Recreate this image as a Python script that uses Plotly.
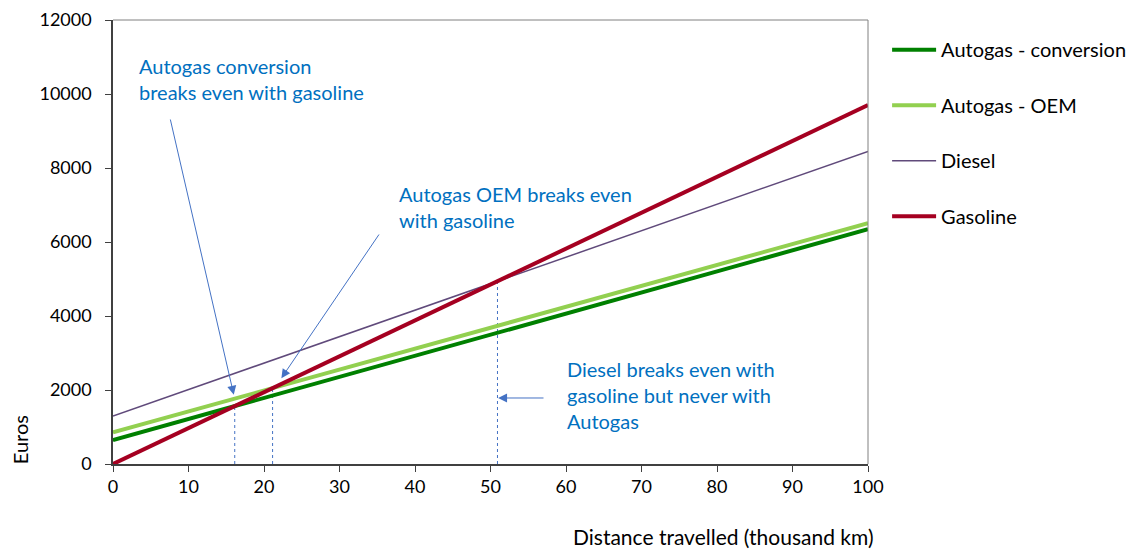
import plotly.graph_objects as go

DIST = [0, 100]  # thousand km
CONVERSION = [645, 6345]
OEM = [855, 6510]
DIESEL = [1297, 8450]
GASOLINE = [0, 9700]

FONT = dict(family="Lato, Carlito, sans-serif", size=18, color="#000000")
NOTE_FONT = dict(family="Lato, Carlito, sans-serif", size=20, color="#0070C0")
ARROW = "#4472C4"


def cross(a, b):
    # x where two straight lines meet, and the value there
    sa = (a[1] - a[0]) / (DIST[1] - DIST[0])
    sb = (b[1] - b[0]) / (DIST[1] - DIST[0])
    x = (b[0] - a[0]) / (sa - sb)
    return x, a[0] + sa * x


fig = go.Figure()
fig.add_trace(go.Scatter(x=DIST, y=CONVERSION, mode="lines", name="Autogas - conversion",
                         line=dict(color="#008000", width=4), legendgroup="a"))
fig.add_trace(go.Scatter(x=DIST, y=OEM, mode="lines", name="Autogas - OEM",
                         line=dict(color="#92D050", width=4), legendgroup="b"))
fig.add_trace(go.Scatter(x=DIST, y=DIESEL, mode="lines", name="Diesel",
                         line=dict(color="#604A7B", width=1.5), legendgroup="c"))
fig.add_trace(go.Scatter(x=DIST, y=GASOLINE, mode="lines", name="Gasoline",
                         line=dict(color="#A50021", width=4), legendgroup="d"))

# dashed drop lines at the break-even points
for other in (CONVERSION, OEM, DIESEL):
    bx, by = cross(other, GASOLINE)
    fig.add_shape(type="line", x0=bx, x1=bx, y0=0, y1=by, xref="x", yref="y",
                  line=dict(color=ARROW, width=1, dash="dot"), layer="below")

# box top/right in grey
fig.add_shape(type="line", xref="paper", yref="paper", x0=0, x1=1, y0=1, y1=1,
              line=dict(color="#808080", width=1))
fig.add_shape(type="line", xref="paper", yref="paper", x0=1, x1=1, y0=0, y1=1,
              line=dict(color="#808080", width=1))

notes = [
    dict(x=0.0318, y=0.867, text="Autogas conversion<br>breaks even with gasoline"),
    dict(x=0.3755, y=0.579, text="Autogas OEM breaks even<br>with gasoline"),
    dict(x=0.5985, y=0.155, text="Diesel breaks even with<br>gasoline but never with<br>Autogas"),
]
anns = [dict(xref="paper", yref="paper", showarrow=False, xanchor="left", yanchor="middle",
             align="left", font=NOTE_FONT, **n) for n in notes]

arrows = [
    dict(x=16.0, y=1870, ax=170, ay=118),
    dict(x=22.3, y=2320, ax=380, ay=233),
    dict(x=51.0, y=1784, ax=545, ay=398),
]
for a in arrows:
    anns.append(dict(x=a["x"], y=a["y"], xref="x", yref="y", text="", showarrow=True,
                     ax=a["ax"] - (113 + a["x"] * 7.55),
                     ay=a["ay"] - (464 - a["y"] * 0.037),
                     arrowhead=2, arrowsize=1.8, arrowwidth=1, arrowcolor=ARROW))

anns.append(dict(x=1.0106, y=-0.164, xref="paper", yref="paper", showarrow=False,
                 xanchor="right", yanchor="middle", text="Distance travelled (thousand km)",
                 font=dict(FONT, size=21)))
anns.append(dict(x=-0.123, y=0.054, xref="paper", yref="paper", showarrow=False,
                 xanchor="center", yanchor="middle", textangle=-90, text="Euros",
                 font=dict(FONT, size=20)))

# page body has an 8px margin, so the figure is drawn 8px in and smaller
fig.update_layout(
    width=1133, height=541,
    margin=dict(l=105, r=273, t=12, b=85, autoexpand=False),
    plot_bgcolor="white", paper_bgcolor="white",
    font=FONT,
    annotations=anns,
    legend=dict(xref="container", yref="container", x=0.7759, y=0.959,
                xanchor="left", yanchor="top", font=dict(FONT, size=20),
                tracegroupgap=26.5, itemwidth=44, bgcolor="rgba(0,0,0,0)"),
)
fig.update_xaxes(range=[0, 100], dtick=10, tick0=0, showgrid=False, zeroline=False,
                 showline=True, linecolor="#404040", linewidth=1.5, automargin=False,
                 ticks="outside", ticklen=6, tickcolor="#404040", tickfont=FONT)
fig.update_yaxes(range=[0, 12000], dtick=2000, tick0=0, showgrid=False, zeroline=False,
                 showline=True, linecolor="#404040", linewidth=1.5, tickformat="d",
                 ticks="outside", ticklen=6, tickcolor="#404040", tickfont=FONT,
                 ticklabelstandoff=10, automargin=False)

fig.write_html("out.html")
